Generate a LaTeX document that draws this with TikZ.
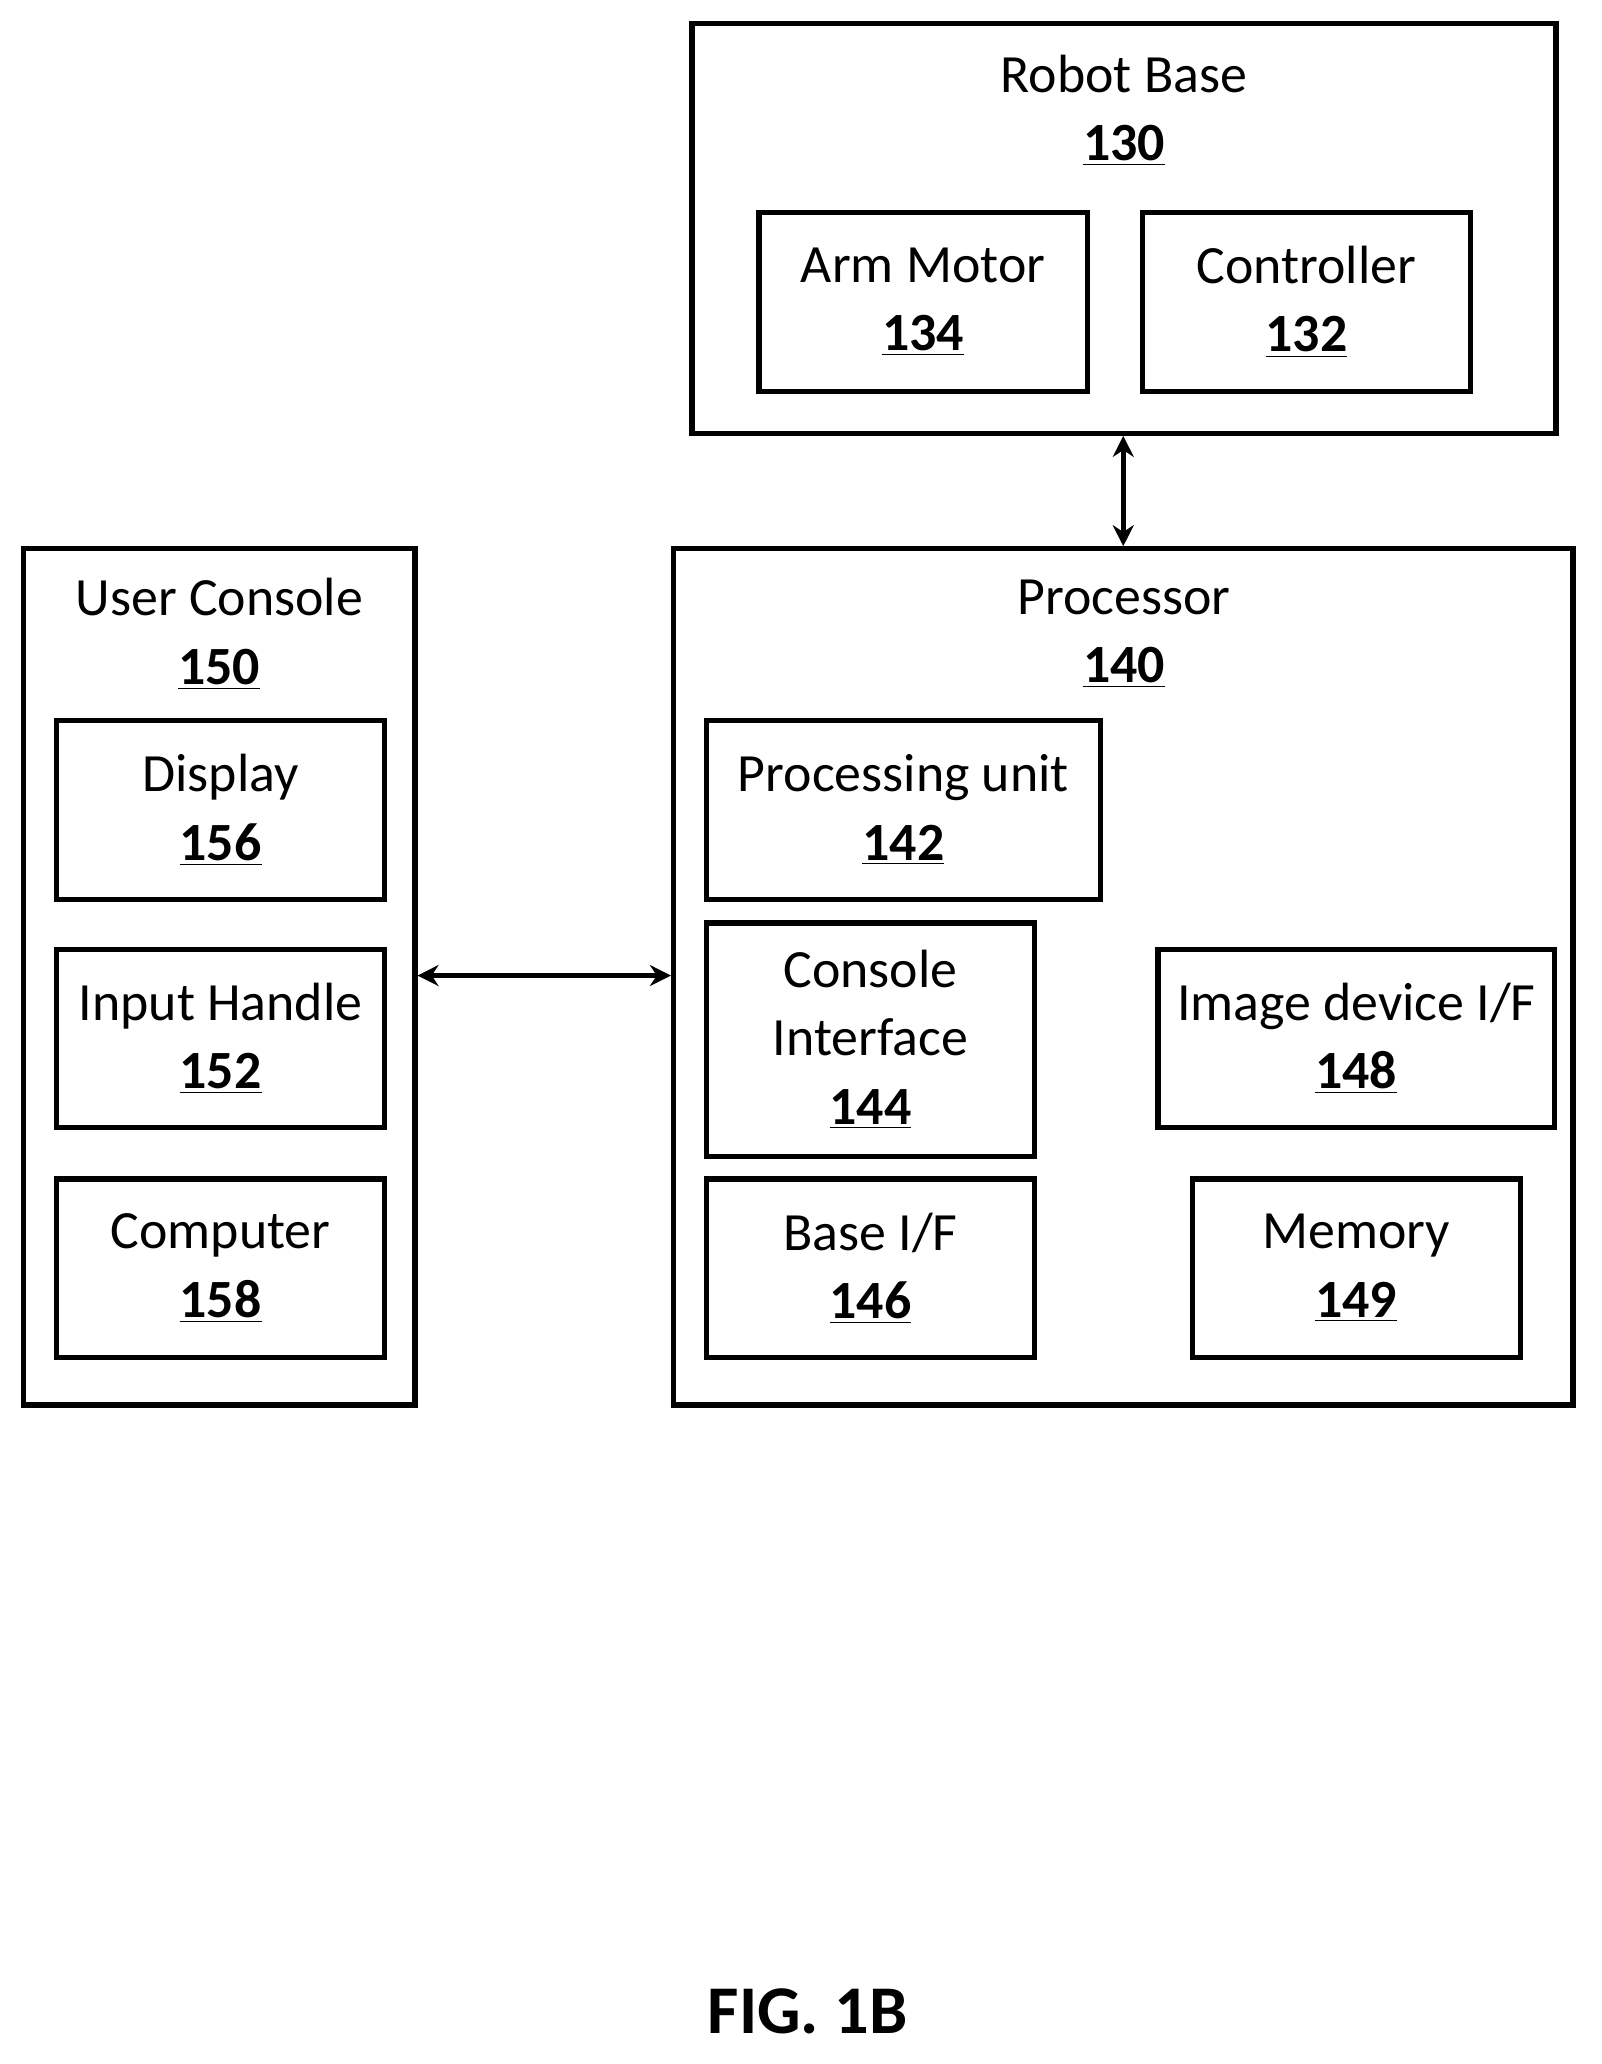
\documentclass[tikz,border=0pt]{standalone}
\usepackage{fontspec}
\setmainfont{Carlito}
\usetikzlibrary{arrows.meta}
\newcommand{\nm}[1]{\underline{\textbf{#1}}}
\begin{document}
\begin{tikzpicture}[x=0.5pt,y=-0.5pt,
  box/.style={draw,line width=2pt,inner sep=0pt,align=center,font=\fontsize{20.5}{26}\selectfont},
  ttl/.style={align=center,font=\fontsize{20.5}{26}\selectfont},
  arr/.style={line width=2pt,{Stealth[length=8pt,width=8pt]}-{Stealth[length=8pt,width=8pt]}}]
\useasboundingbox (0,0) rectangle (1220,1572);
% outer boxes
\node[box,minimum width=329pt,minimum height=156pt] (rb) at (856,174) {};
\node[ttl] (rbt) at (856,84) {Robot Base\\\nm{130}};
\node[box,minimum width=149pt,minimum height=326pt] (uc) at (167,744) {};
\node[ttl] (uct) at (167,483) {User Console\\\nm{150}};
\node[box,minimum width=342.5pt,minimum height=326pt] (pr) at (855.5,744) {};
\node[ttl] (prt) at (856,483) {Processor\\\nm{140}};
% inner boxes
\node[box,minimum width=125pt,minimum height=68pt] (am) at (703,230) {Arm Motor\\\nm{134}};
\node[box,minimum width=125pt,minimum height=68pt] (ct) at (995,230) {Controller\\\nm{132}};
\node[box,minimum width=125pt,minimum height=68pt] (ds) at (168,617) {Display\\\nm{156}};
\node[box,minimum width=125pt,minimum height=68pt] (ih) at (168,791) {Input Handle\\\nm{152}};
\node[box,minimum width=125pt,minimum height=68pt] (cp) at (168,966) {Computer\\\nm{158}};
\node[box,minimum width=150pt,minimum height=68pt] (pu) at (688,617) {Processing unit\\\nm{142}};
\node[box,minimum width=125pt,minimum height=89pt] (ci) at (663,792) {Console\\Interface\\\nm{144}};
\node[box,minimum width=151pt,minimum height=68pt] (im) at (1033,791) {Image device I/F\\\nm{148}};
\node[box,minimum width=125pt,minimum height=68pt] (bi) at (663,966) {Base I/F\\\nm{146}};
\node[box,minimum width=125pt,minimum height=68pt] (me) at (1033,966) {Memory\\\nm{149}};
% connectors
\draw[arr] (rb.south -| pr.north) -- (pr.north);
\draw[arr] (uc.east |- 0,743) coordinate (a1) -- (pr.west |- a1);
\node[font=\fontsize{26}{30}\selectfont\bfseries] (fig) at (615,1532) {FIG. 1B};
\end{tikzpicture}
\end{document}
